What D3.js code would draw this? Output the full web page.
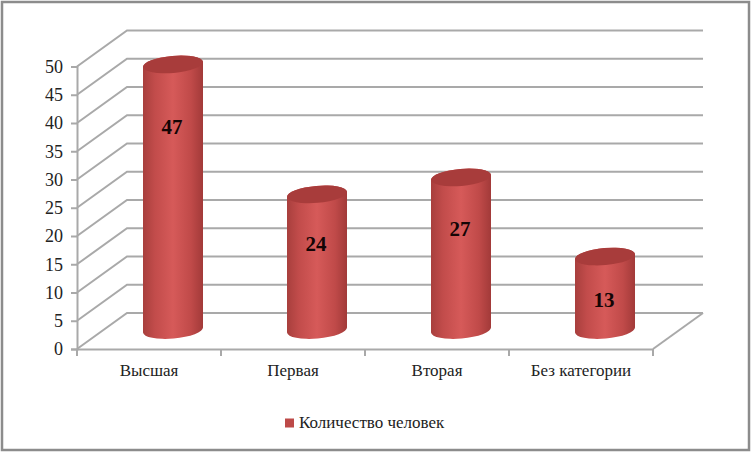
<!DOCTYPE html>
<html>
<head>
<meta charset="utf-8">
<script src="https://cdn.jsdelivr.net/npm/d3@7"></script>
<style>
  html, body { margin: 0; padding: 0; background: #fff; }
  svg { display: block; }
  text { font-family: "Liberation Serif", serif; fill: #222; }
</style>
</head>
<body>
<div id="container"></div>
<script>
/* DATA */
const categories = ["Высшая", "Первая", "Вторая", "Без категории"];
const values = [47, 24, 27, 13];
const yTicks = [0, 5, 10, 15, 20, 25, 30, 35, 40, 45, 50];
const seriesName = "Количество человек";

/* CONSTANTS */
const width = 751,
      height = 452,
      margin = {top: 66.5, bottom: 103, left: 77, right: 98},
      depthX = 50,   // how far the back wall is shifted from the front axis
      depthY = 36,
      rx = 30,
      ry = 8.5,
      tilt = -5,
      gridColor = "#a9a9a9";

/* SCALES */
const xScale = d3.scaleBand()
  .domain(categories)
  .range([margin.left, width - margin.right]);

const yScale = d3.scaleLinear()
  .domain([0, 50])
  .range([height - margin.bottom, margin.top]);

/* SVG */
const svg = d3.select("#container").append("svg")
  .attr("width", width)
  .attr("height", height);

// cylinder shading
const defs = svg.append("defs");
const grad = defs.append("linearGradient").attr("id", "body");
[[0, "#a83f3d"], [0.2, "#c24c4b"], [0.5, "#d65a59"], [0.8, "#c04a49"], [1, "#a23a39"]]
  .forEach(s => grad.append("stop").attr("offset", s[0]).attr("stop-color", s[1]));

// chart frame
svg.append("rect")
  .attr("x", 2).attr("y", 2)
  .attr("width", width - 4).attr("height", height - 4)
  .attr("fill", "#fff")
  .attr("stroke", "#8c8c8c")
  .attr("stroke-width", 2.5);

/* WALL GRID */
const grid = svg.append("g")
  .attr("fill", "none")
  .attr("stroke", gridColor)
  .attr("stroke-width", 2);

grid.selectAll("path.wall")
  .data(yTicks)
  .join("path")
  .attr("class", "wall")
  .attr("d", d => {
    const y = yScale(d);
    return `M${margin.left},${y}L${margin.left + depthX},${y - depthY}H${width - margin.right + depthX}`;
  });

// floor right edge
grid.append("path")
  .attr("d", `M${width - margin.right},${yScale(0)}L${width - margin.right + depthX},${yScale(0) - depthY}`);

/* AXES */
const yAxis = d3.axisLeft(yScale).tickValues(yTicks).tickSize(6).tickPadding(8);
const xAxis = d3.axisBottom(xScale).tickSize(0).tickPadding(15);

const yAxisGroup = svg.append("g")
  .attr("transform", `translate(${margin.left},0)`)
  .call(yAxis);

const xAxisGroup = svg.append("g")
  .attr("transform", `translate(0,${yScale(0)})`)
  .call(xAxis);

// category boundary ticks sit between the bands
xAxisGroup.selectAll("line.sep")
  .data(d3.range(categories.length + 1))
  .join("line")
  .attr("class", "sep")
  .attr("x1", i => margin.left + i * xScale.bandwidth())
  .attr("x2", i => margin.left + i * xScale.bandwidth())
  .attr("y1", 0).attr("y2", 7);

svg.selectAll(".domain, .tick line, line.sep")
  .attr("stroke", gridColor)
  .attr("stroke-width", 2);

yAxisGroup.selectAll("text")
  .attr("font-size", 18)
  .attr("font-family", "Liberation Serif");

xAxisGroup.selectAll("text")
  .attr("font-size", 17)
  .attr("font-family", "Liberation Serif");

/* CYLINDERS */
const baseShift = -19;
const cx = d => xScale(d) + xScale.bandwidth() / 2 + 24;

const bars = svg.append("g").selectAll("g.bar")
  .data(categories.map((c, i) => ({cat: c, value: values[i]})))
  .join("g")
  .attr("class", "bar");

bars.append("path")
  .attr("fill", "url(#body)")
  .attr("d", d => {
    const x = cx(d.cat),
          yb = yScale(0) + baseShift,
          yt = yScale(d.value) + baseShift,
          dy = rx * Math.sin(tilt * Math.PI / 180);
    return `M${x - rx},${yt - dy}L${x - rx},${yb - dy}` +
           `A${rx},${ry} ${tilt} 0 0 ${x + rx},${yb + dy}` +
           `L${x + rx},${yt + dy}` +
           `A${rx},${ry} ${tilt} 0 0 ${x - rx},${yt - dy}Z`;
  });

bars.append("ellipse")
  .attr("rx", rx)
  .attr("ry", ry)
  .attr("fill", "#a83c3b")
  .attr("transform", d => `translate(${cx(d.cat)},${yScale(d.value) + baseShift}) rotate(${tilt})`);

bars.append("text")
  .attr("x", d => cx(d.cat) - 1)
  .attr("y", d => yScale(d.value * 0.9) + 17)
  .attr("dy", "0.35em")
  .attr("text-anchor", "middle")
  .attr("font-size", 21)
  .attr("font-weight", "bold")
  .style("fill", "#140505")
  .text(d => d.value);

/* LEGEND */
const legend = svg.append("g").attr("transform", "translate(285,423)");
legend.append("rect")
  .attr("x", 0).attr("y", -4.5)
  .attr("width", 9).attr("height", 9)
  .attr("fill", "#bd4a48");
legend.append("text")
  .attr("x", 14)
  .attr("dy", "0.32em")
  .attr("font-size", 17)
  .text(seriesName);
</script>
</body>
</html>
